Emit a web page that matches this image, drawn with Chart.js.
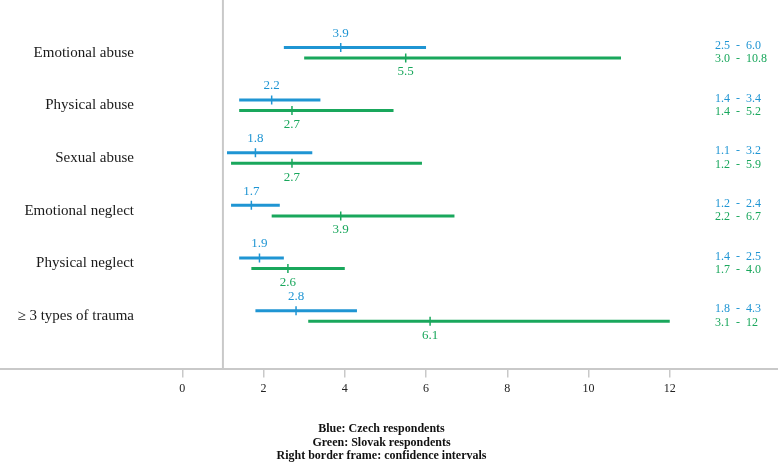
<!DOCTYPE html>
<html>
<head>
<meta charset="utf-8">
<script src="https://cdn.jsdelivr.net/npm/chart.js@4"></script>
<style>
  body { margin: 0; background: #fff; }
  #wrap { position: relative; width: 778px; height: 462px; }
</style>
</head>
<body>
<div id="wrap"><canvas id="forest"></canvas></div>
<script>
const categories = ['Emotional abuse', 'Physical abuse', 'Sexual abuse', 'Emotional neglect', 'Physical neglect', '\u2265 3 types of trauma'];

const czechOR = [3.9, 2.2, 1.8, 1.7, 1.9, 2.8];
const czechLow = [2.5, 1.4, 1.1, 1.2, 1.4, 1.8];
const czechHigh = [6.0, 3.4, 3.2, 2.4, 2.5, 4.3];

const slovakOR = [5.5, 2.7, 2.7, 3.9, 2.6, 6.1];
const slovakLow = [3.0, 1.4, 1.2, 2.2, 1.7, 3.1];
const slovakHigh = [10.8, 5.2, 5.9, 6.7, 4.0, 12];

const xTicks = [0, 2, 4, 6, 8, 10, 12];
const refValue = 1;

const footerLines = ['Blue: Czech respondents', 'Green: Slovak respondents', 'Right border frame: confidence intervals'];

const blue = '#1f95d3';
const green = '#19a75c';
const grey = '#c9c9c9';
const serif = "'Liberation Serif', 'Times New Roman', serif";

// rows sit at 0..5, blue a little above the row, green a little below
const off = 0.1;

function fmt(v) {
    // the reference prints 12 without a decimal
    return Number.isInteger(v) && v >= 10 ? String(v) : v.toFixed(1);
}

const datasets = [];

datasets.push({
    data: [{ x: refValue, y: -1 }, { x: refValue, y: 6 }],
    showLine: true, borderColor: grey, borderWidth: 2, pointRadius: 0
});

categories.forEach((c, i) => {
    datasets.push({
        data: [{ x: czechLow[i], y: i - off }, { x: czechHigh[i], y: i - off }],
        showLine: true, borderColor: blue, borderWidth: 3, pointRadius: 0, borderCapStyle: 'butt'
    });
    datasets.push({
        data: [{ x: slovakLow[i], y: i + off }, { x: slovakHigh[i], y: i + off }],
        showLine: true, borderColor: green, borderWidth: 3, pointRadius: 0, borderCapStyle: 'butt'
    });
});

datasets.push({
    data: czechOR.map((v, i) => ({ x: v, y: i - off })),
    pointStyle: 'line', rotation: 90, radius: 4.5, borderColor: blue, borderWidth: 1.5, backgroundColor: blue
});
datasets.push({
    data: slovakOR.map((v, i) => ({ x: v, y: i + off })),
    pointStyle: 'line', rotation: 90, radius: 4.5, borderColor: green, borderWidth: 1.5, backgroundColor: green
});

const textPlugin = {
    id: 'forestText',
    afterDatasetsDraw(chart) {
        const ctx = chart.ctx;
        const xs = chart.scales.x, ys = chart.scales.y;
        const area = chart.chartArea;
        ctx.save();
        ctx.textBaseline = 'middle';

        categories.forEach((c, i) => {
            const yb = ys.getPixelForValue(i - off);
            const yg = ys.getPixelForValue(i + off);

            ctx.font = '15px ' + serif;
            ctx.fillStyle = '#1a1a1a';
            ctx.textAlign = 'right';
            ctx.fillText(c, area.left + 134, ys.getPixelForValue(i));

            ctx.font = '13px ' + serif;
            ctx.textAlign = 'center';
            ctx.fillStyle = blue;
            ctx.fillText(czechOR[i].toFixed(1), xs.getPixelForValue(czechOR[i]), yb - 14);
            ctx.fillStyle = green;
            ctx.fillText(slovakOR[i].toFixed(1), xs.getPixelForValue(slovakOR[i]), yg + 14);

            ctx.font = '12px ' + serif;
            ctx.textAlign = 'left';
            ctx.fillStyle = blue;
            ctx.fillText(fmt(czechLow[i]) + '  -  ' + fmt(czechHigh[i]), area.right - 63, yb - 1.5);
            ctx.fillStyle = green;
            ctx.fillText(fmt(slovakLow[i]) + '  -  ' + fmt(slovakHigh[i]), area.right - 63, yg + 1.3);
        });

        ctx.font = 'bold 12px ' + serif;
        ctx.fillStyle = '#111';
        ctx.textAlign = 'center';
        footerLines.forEach((t, k) => {
            ctx.fillText(t, 381.5, 429 + k * 13.5);
        });
        ctx.restore();
    }
};

new Chart(document.getElementById('forest'), {
    type: 'scatter',
    data: { datasets: datasets },
    options: {
        responsive: true,
        maintainAspectRatio: false,
        animation: false,
        layout: { autoPadding: false, padding: { left: 0, right: 0, top: 0, bottom: 62 } },
        plugins: { legend: { display: false }, tooltip: { enabled: false } },
        scales: {
            x: {
                type: 'linear',
                min: -4.488,
                max: 14.665,
                afterBuildTicks: (scale) => { scale.ticks = xTicks.map(v => ({ value: v })); },
                grid: { drawOnChartArea: false, drawTicks: true, tickLength: 9, color: grey, lineWidth: 1.5 },
                border: { color: grey, width: 2 },
                ticks: { color: '#222', font: { family: serif, size: 12 }, padding: 4 }
            },
            y: {
                type: 'linear',
                min: -1,
                max: 6,
                reverse: true,
                display: false
            }
        }
    },
    plugins: [textPlugin]
});
</script>
</body>
</html>
